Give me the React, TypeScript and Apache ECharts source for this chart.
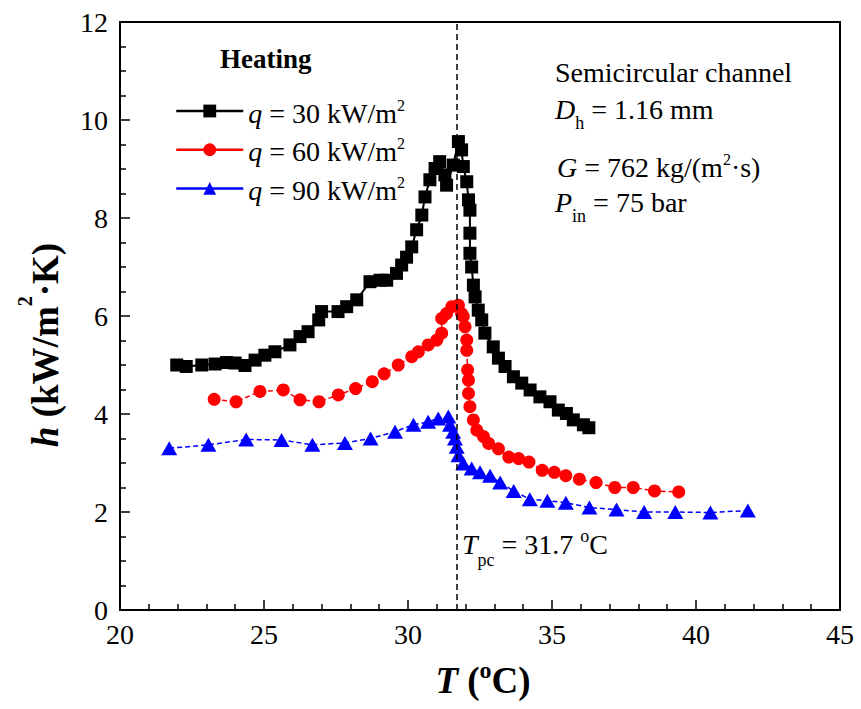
import React, { useEffect, useRef } from "react";
import * as echarts from "echarts";

const T30 = [21.97, 22.3, 22.84, 23.3, 23.7, 24.0, 24.34, 24.69, 25.03, 25.38, 25.9, 26.25, 26.53, 26.9, 27.0, 27.57, 27.87, 28.22, 28.68, 29.03, 29.26, 29.6, 29.78, 29.95, 30.13, 30.3, 30.48, 30.59, 30.76, 30.94, 31.1, 31.28, 31.34, 31.57, 31.75, 31.86, 31.92, 32.04, 32.1, 32.15, 32.15, 32.15, 32.21, 32.27, 32.33, 32.44, 32.56, 32.67, 32.96, 33.14, 33.37, 33.66, 33.95, 34.24, 34.58, 34.93, 35.22, 35.5, 35.74, 36.09, 36.28];
const H30 = [5.0, 4.97, 5.0, 5.02, 5.05, 5.04, 4.99, 5.1, 5.2, 5.27, 5.41, 5.58, 5.68, 5.92, 6.09, 6.09, 6.19, 6.33, 6.7, 6.73, 6.73, 6.87, 7.04, 7.2, 7.41, 7.76, 8.06, 8.43, 8.78, 9.01, 9.15, 8.88, 8.67, 9.08, 9.56, 9.39, 9.05, 8.74, 8.37, 8.16, 7.69, 7.28, 7.0, 6.63, 6.39, 6.12, 5.92, 5.65, 5.37, 5.14, 4.97, 4.76, 4.63, 4.49, 4.35, 4.25, 4.08, 4.01, 3.88, 3.78, 3.72];

const T60 = [23.27, 24.03, 24.86, 25.67, 26.25, 26.91, 27.58, 28.18, 28.76, 29.17, 29.66, 30.13, 30.36, 30.7, 31.0, 31.17, 31.17, 31.34, 31.52, 31.75, 31.86, 31.92, 31.98, 32.04, 32.04, 32.07, 32.1, 32.1, 32.15, 32.27, 32.39, 32.62, 32.8, 33.14, 33.5, 33.84, 34.2, 34.66, 35.08, 35.48, 35.95, 36.53, 37.18, 37.82, 38.56, 39.4];
const H60 = [4.3, 4.25, 4.46, 4.49, 4.29, 4.25, 4.39, 4.52, 4.66, 4.82, 5.0, 5.17, 5.27, 5.41, 5.51, 5.65, 5.95, 6.05, 6.19, 6.22, 6.05, 5.99, 5.78, 5.51, 5.3, 4.9, 4.69, 4.42, 4.15, 3.88, 3.67, 3.54, 3.4, 3.29, 3.12, 3.09, 3.02, 2.85, 2.81, 2.74, 2.67, 2.6, 2.5, 2.5, 2.43, 2.41];

const T90 = [21.71, 23.07, 24.38, 25.61, 26.68, 27.81, 28.7, 29.55, 30.19, 30.7, 31.05, 31.4, 31.46, 31.57, 31.63, 31.69, 31.75, 31.92, 32.21, 32.5, 32.85, 33.2, 33.67, 34.23, 34.84, 35.48, 36.3, 37.24, 38.2, 39.28, 40.5, 41.8];
const H90 = [3.3, 3.37, 3.48, 3.47, 3.37, 3.41, 3.5, 3.64, 3.78, 3.84, 3.91, 3.95, 3.78, 3.64, 3.5, 3.33, 3.16, 2.99, 2.89, 2.81, 2.74, 2.6, 2.43, 2.26, 2.23, 2.19, 2.09, 2.05, 2.0, 2.0, 1.99, 2.03];

const SERIES_NAMES = ["q = 30 kW/m2", "q = 60 kW/m2", "q = 90 kW/m2"];
const Q_VALUES = ["30", "60", "90"];
const T_PC = 31.7;
const X_MIN = 20, X_MAX = 45, X_INTERVAL = 5;
const Y_MIN = 0, Y_MAX = 12, Y_INTERVAL = 2;

const FONT = "Liberation Serif";

const zip = (xs: number[], ys: number[]) => xs.map((x, i) => [x, ys[i]]);

const baseRich: any = {
  n: { fontFamily: FONT, fontSize: 28, lineHeight: 30, verticalAlign: "top", padding: [3, 0, 0, 0], color: "#000" },
  i: { fontFamily: FONT, fontSize: 28, lineHeight: 30, verticalAlign: "top", padding: [3, 0, 0, 0], fontStyle: "italic", color: "#000" },
  sup: { fontFamily: FONT, fontSize: 16, lineHeight: 16, verticalAlign: "top", padding: [1, 0, 0, 0], color: "#000" },
  sub: { fontFamily: FONT, fontSize: 18, lineHeight: 18, verticalAlign: "top", padding: [22, 0, 0, 0], color: "#000" },
  subl: { fontFamily: FONT, fontSize: 18, lineHeight: 18, verticalAlign: "top", padding: [24, 0, 0, 0], color: "#000" },
  deg: { fontFamily: FONT, fontSize: 18, lineHeight: 12, verticalAlign: "top", padding: [0, 0, 0, 0], color: "#000" },
};

const titleRich: any = {
  b: { fontFamily: FONT, fontSize: 37, fontWeight: "bold", fontStyle: "italic", lineHeight: 44, verticalAlign: "top", padding: [4, 0, 0, 0], color: "#000" },
  bn: { fontFamily: FONT, fontSize: 37, fontWeight: "bold", lineHeight: 44, verticalAlign: "top", padding: [4, 0, 0, 0], color: "#000" },
};

export default function App() {
  const ref = useRef<HTMLDivElement>(null);
  useEffect(() => {
    if (!ref.current) return;
    const chart = echarts.init(ref.current, null, { renderer: "svg" });
    const colors = ["#000000", "#ff0000", "#0000ff"];
    const symbols = ["rect", "circle", "triangle"];
    const sizes: any[] = [13, 13, [16, 14]];
    const data = [zip(T30, H30), zip(T60, H60), zip(T90, H90)];
    const series: any[] = data.map((d, k) => ({
      type: "line",
      name: SERIES_NAMES[k],
      data: d,
      symbol: symbols[k],
      symbolSize: sizes[k],
      showSymbol: true,
      itemStyle: { color: colors[k] },
      lineStyle: { color: colors[k], width: k === 0 ? 2 : 1.5, type: k === 0 ? "solid" : [5, 3] },
      z: 3 - k,
    }));
    series[2].markLine = {
      silent: true,
      symbol: ["none", "none"],
      label: { show: false },
      lineStyle: { type: [6, 4], color: "#000", width: 1.5 },
      data: [{ xAxis: T_PC }],
    };
    chart.setOption({
      animation: false,
      backgroundColor: "#fff",
      grid: { left: 120, right: 21, top: 22, bottom: 99, show: true, borderColor: "#000", borderWidth: 2 },
      legend: {
        orient: "vertical",
        left: 170,
        top: 91,
        itemWidth: 67,
        itemHeight: 16,
        itemGap: 7.7,
        data: SERIES_NAMES.map((n, k) => ({ name: n, lineStyle: { type: "solid", width: 2.5, color: colors[k] } })),
        formatter: (name: string) => {
          const k = SERIES_NAMES.indexOf(name);
          return `{i|q}{n| = ${Q_VALUES[k]} kW/m}{sup|2}`;
        },
        textStyle: { fontFamily: FONT, fontSize: 28, lineHeight: 30, padding: [0, 0, 0, 0], rich: baseRich },
      },
      xAxis: {
        type: "value",
        min: X_MIN,
        max: X_MAX,
        interval: X_INTERVAL,
        axisLine: { show: true, lineStyle: { color: "#000", width: 2 } },
        axisTick: { show: true, inside: true, length: 10, lineStyle: { color: "#000", width: 1.5 } },
        minorTick: { show: true, splitNumber: 5, length: 6, lineStyle: { color: "#000", width: 1.5 } },
        splitLine: { show: false },
        axisLabel: { fontFamily: FONT, fontSize: 28, color: "#000", margin: 10 },
      },
      yAxis: {
        type: "value",
        min: Y_MIN,
        max: Y_MAX,
        interval: Y_INTERVAL,
        axisLine: { show: true, lineStyle: { color: "#000", width: 2 } },
        axisTick: { show: true, inside: true, length: 10, lineStyle: { color: "#000", width: 1.5 } },
        minorTick: { show: true, splitNumber: 4, length: 6, lineStyle: { color: "#000", width: 1.5 } },
        splitLine: { show: false },
        axisLabel: { fontFamily: FONT, fontSize: 28, color: "#000", margin: 12 },
      },
      graphic: [
        {
          type: "text",
          x: 35,
          y: 345,
          rotation: Math.PI / 2,
          style: {
            text: "{b|h}{bn| (kW/m}{bs|2}{bn|·K)}",
            align: "center",
            verticalAlign: "middle",
            rich: {
              b: { ...titleRich.b, padding: [14, 0, 0, 0] },
              bn: { ...titleRich.bn, padding: [14, 0, 0, 0] },
              bs: { fontFamily: FONT, fontSize: 20, fontWeight: "bold", lineHeight: 20, verticalAlign: "top", padding: [2, 0, 0, 0], color: "#000" },
            },
          },
        },
        {
          type: "text",
          x: 483,
          y: 680,
          style: {
            text: "{b|T}{bn| (}{bs|o}{bn|C)}",
            align: "center",
            verticalAlign: "middle",
            rich: {
              ...titleRich,
              bs: { fontFamily: FONT, fontSize: 24, fontWeight: "bold", lineHeight: 24, verticalAlign: "top", padding: [0, 0, 0, 0], color: "#000" },
            },
          },
        },
        {
          type: "text",
          left: 220,
          top: 45,
          style: { text: "Heating", font: `bold 27px '${FONT}'`, fill: "#000" },
        },
        { type: "text", left: 555, top: 55, style: { text: "{n|Semicircular channel}", rich: baseRich } },
        { type: "text", left: 555, top: 92, style: { text: "{i|D}{sub|h}{n| = 1.16 mm}", rich: baseRich } },
        { type: "text", left: 557, top: 150, style: { text: "{i|G}{n| = 762 kg/(m}{sup|2}{n|·s)}", rich: baseRich } },
        { type: "text", left: 555, top: 185, style: { text: "{i|P}{sub|in}{n| = 75 bar}", rich: baseRich } },
        { type: "text", left: 462, top: 527, style: { text: "{i|T}{subl|pc}{n| = 31.7 }{deg|o}{n|C}", rich: baseRich } },
      ],
      series,
    });
    return () => chart.dispose();
  }, []);
  return <div ref={ref} style={{ position: "absolute", left: 0, top: 0, width: 861, height: 709 }} />;
}
